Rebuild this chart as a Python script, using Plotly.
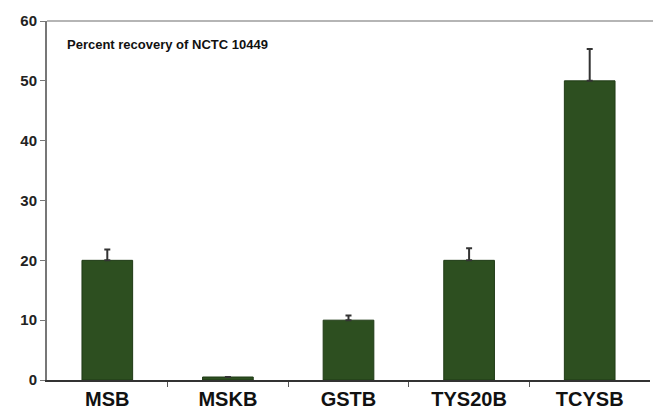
import plotly.graph_objects as go

categories = ["MSB", "MSKB", "GSTB", "TYS20B", "TCYSB"]
values = [20.0, 0.5, 10.0, 20.0, 50.0]
err_plus = [1.8, 0.0, 0.8, 2.0, 5.3]
y_ticks = [0, 10, 20, 30, 40, 50, 60]
title_text = "Percent recovery of NCTC 10449"

fig = go.Figure()
fig.add_trace(go.Bar(
    x=list(range(len(categories))),
    y=values,
    width=0.42,
    marker=dict(color="#2d4f20", line=dict(color="#1f3a15", width=1)),
    error_y=dict(type="data", symmetric=False, array=err_plus,
                 arrayminus=[0]*len(values), color="#333333",
                 thickness=2, width=3),
))

fig.update_layout(
    width=654, height=410,
    margin=dict(l=47, r=4, t=21, b=30),
    paper_bgcolor="white", plot_bgcolor="white",
    showlegend=False,
    font=dict(family="Liberation Sans, Arial, sans-serif", color="#222222"),
    xaxis=dict(
        range=[-0.5, 4.5], automargin=False,
        tickmode="array", tickvals=list(range(len(categories))),
        ticktext=categories,
        tickfont=dict(size=20, family="Liberation Sans, Arial", color="#111111",
                      weight="bold"),
        showline=True, linecolor="#333333", linewidth=2,
        showgrid=False, zeroline=False, ticks="", ticklabelstandoff=0,
        minor=dict(tickvals=[0.5, 1.5, 2.5, 3.5], ticks="outside",
                   ticklen=5, tickcolor="#555555", tickwidth=1),
    ),
    yaxis=dict(
        range=[0, 60], automargin=False,
        tickmode="array", tickvals=y_ticks,
        tickfont=dict(size=15, family="Liberation Sans, Arial", color="#222222",
                      weight="bold"),
        showline=True, linecolor="#777777", linewidth=2,
        ticks="outside", ticklen=5, tickcolor="#777777", tickwidth=1,
        showgrid=False, zeroline=False, ticklabelstandoff=0,
    ),
    shapes=[dict(type="line", xref="paper", yref="paper", x0=0, x1=1.005,
                 y0=1, y1=1, line=dict(color="#b5b5b5", width=2))],
    annotations=[dict(text="<b>" + title_text + "</b>", xref="paper", yref="paper",
                      x=0.03, y=0.935, xanchor="left", yanchor="middle",
                      showarrow=False,
                      font=dict(size=13, family="Liberation Sans, Arial", color="#111111"))],
)

fig.write_html("out.html")
